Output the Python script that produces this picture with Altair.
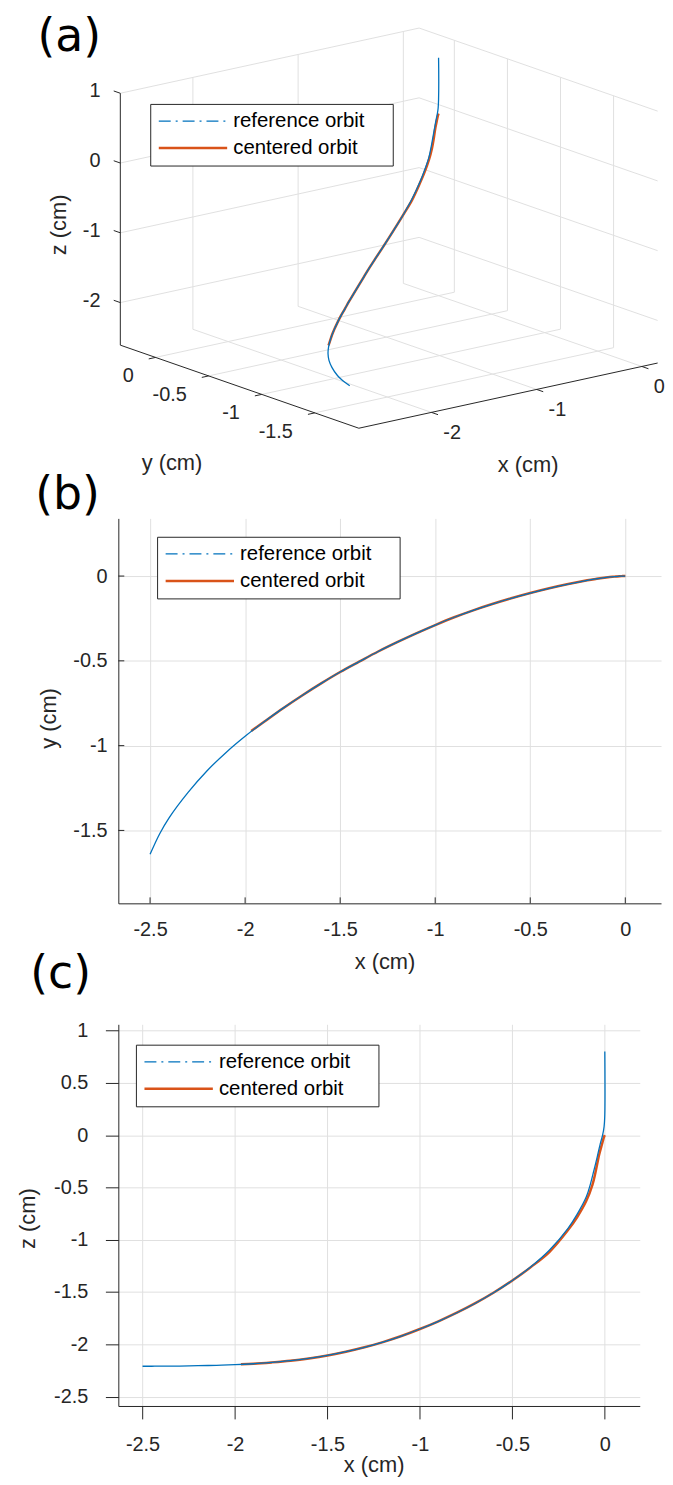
import altair as alt
import pandas as pd

# ---------------- curve data (cm) ----------------
ref_x = [-2.5, -2.45, -2.4, -2.3, -2.2, -2.1, -2.0, -1.9, -1.8, -1.7, -1.6, -1.5,
         -1.4, -1.3, -1.2, -1.1, -1.0, -0.9, -0.8, -0.7, -0.6, -0.5, -0.4, -0.3,
         -0.2, -0.15, -0.1, -0.079, -0.06, -0.04, -0.025, -0.012, -0.004, 0.0, 0.0]
ref_y = [-1.641, -1.521, -1.426, -1.276, -1.148, -1.040, -0.945, -0.859, -0.779, -0.704,
         -0.633, -0.566, -0.505, -0.445, -0.390, -0.338, -0.289, -0.243, -0.202, -0.165,
         -0.131, -0.100, -0.072, -0.047, -0.025, -0.016, -0.008, -0.005, -0.003, -0.0015,
         -0.0007, -0.0002, 0.0, 0.0, 0.0]
ref_z = [-2.210, -2.210, -2.209, -2.208, -2.205, -2.201, -2.195, -2.186, -2.173, -2.157,
         -2.135, -2.107, -2.071, -2.029, -1.979, -1.921, -1.854, -1.780, -1.698, -1.607,
         -1.505, -1.390, -1.259, -1.101, -0.894, -0.758, -0.590, -0.475, -0.345, -0.200,
         -0.085, 0.000, 0.080, 0.200, 0.800]

cen_x = [-1.968, -1.9, -1.8, -1.7, -1.6, -1.5, -1.4, -1.3, -1.2, -1.1, -1.0, -0.9, -0.8,
         -0.7, -0.6, -0.5, -0.4, -0.3, -0.2, -0.15, -0.1, -0.067, -0.05, -0.031, -0.015,
         -0.005, 0.0]
cen_y = [-0.914, -0.859, -0.779, -0.704, -0.633, -0.566, -0.505, -0.445, -0.390, -0.338,
         -0.289, -0.243, -0.202, -0.165, -0.131, -0.100, -0.072, -0.047, -0.025, -0.016,
         -0.008, -0.004, -0.003, -0.001, -0.0003, 0.0, 0.0]
cen_z = [-2.190, -2.186, -2.173, -2.157, -2.135, -2.107, -2.071, -2.029, -1.979, -1.921,
         -1.854, -1.780, -1.698, -1.607, -1.505, -1.390, -1.262, -1.118, -0.910, -0.785,
         -0.628, -0.475, -0.352, -0.190, -0.085, -0.020, 0.000]

SERIES = ["reference orbit", "centered orbit"]
COLORS = ["#0072BD", "#D95319"]
DASHES = [[12, 5, 2, 5], [1, 0]]
WIDTHS = [1.3, 2.5]
PANELS = ["(a)", "(b)", "(c)"]

# ---------------- ticks and axis limits ----------------
x_ticks_2d = [-2.5, -2.0, -1.5, -1.0, -0.5, 0.0]
y_ticks_b = [0.0, -0.5, -1.0, -1.5]
z_ticks_c = [1.0, 0.5, 0.0, -0.5, -1.0, -1.5, -2.0, -2.5]
x_ticks_3d = [-2.0, -1.0, 0.0]
y_ticks_3d = [0.0, -0.5, -1.0, -1.5]
z_ticks_3d = [1.0, 0.0, -1.0, -2.0]

xlim_b = [-2.667, 0.188]
ylim_b = [-1.93, 0.34]
xlim_c = [-2.631, 0.189]
zlim_c = [-2.59, 1.06]
xlim_3d = [-2.69, 0.15]
ylim_3d = [-1.915, 0.332]
zlim_3d = [-2.61, 1.0]

# ---------------- styles ----------------
FONT = "Liberation Sans"
PANEL_FONT = "DejaVu Sans"
AX = "#262626"
GRID = "#e0e0e0"

WA, HA = 546, 387.7
WB, HB = 546, 387.3
WC, HC = 524.6, 384


def fmt(v):
    s = "%g" % v
    return "0" if s == "-0" else s


def legend(lx, ly):
    # an invisible right-hand title widens the box like MATLAB's legend
    return alt.Legend(
        title="\u00a0", titleOrient="right", titlePadding=21, titleFontSize=6,
        titleColor="white",
        orient="none", legendX=lx, legendY=ly,
        fillColor="white", strokeColor=AX, padding=7, rowPadding=6.2,
        clipHeight=20.5, symbolType="stroke", symbolSize=4733,
        labelFont=FONT, labelFontSize=20.5, labelColor="black",
        labelOffset=4.5, labelLimit=400,
    )


def panel_label(text, px, py):
    return alt.Chart(pd.DataFrame({"t": [text]})).mark_text(
        align="left", baseline="alphabetic", font=PANEL_FONT, fontSize=46, color="black"
    ).encode(x=alt.value(px), y=alt.value(py), text="t:N")


def frame(xs, ys, zs, name):
    return pd.DataFrame({"x": xs, "y": ys, "z": zs, "series": name, "i": list(range(len(xs)))})


ref_df = frame(ref_x, ref_y, ref_z, SERIES[0])
cen_df = frame(cen_x, cen_y, cen_z, SERIES[1])


def legend_encodings(leg):
    return dict(
        color=alt.Color("series:N", scale=alt.Scale(domain=SERIES, range=COLORS), legend=leg),
        strokeDash=alt.StrokeDash("series:N", scale=alt.Scale(domain=SERIES, range=DASHES), legend=leg),
        strokeWidth=alt.StrokeWidth("series:N", scale=alt.Scale(domain=SERIES, range=WIDTHS), legend=leg),
    )


def color_only(leg):
    return alt.Color("series:N", scale=alt.Scale(domain=SERIES, range=COLORS), legend=leg)


# ================= panel (a): 3-D view, orthographic projection =================
EX = (105.85, -23.1)   # screen px per cm along +x
EY = (-106.8, -37.2)   # screen px per cm along +y
EZ = (0.0, -70.2)      # screen px per cm along +z
A_ORIGIN = (2.0, 334.7)  # screen position of (xmin, ymax, zmin) in the panel
X0, X1 = xlim_3d
Y0, Y1 = ylim_3d
Z0, Z1 = zlim_3d


def proj(x, y, z):
    dx, dy, dz = x - X0, y - Y1, z - Z0
    return (A_ORIGIN[0] + dx * EX[0] + dy * EY[0] + dz * EZ[0],
            A_ORIGIN[1] + dx * EX[1] + dy * EY[1] + dz * EZ[1])


def seg(p, q):
    (a1, b1), (a2, b2) = proj(*p), proj(*q)
    return {"x1": a1, "y1": b1, "x2": a2, "y2": b2}


grid_rows = []
for x in x_ticks_3d:
    grid_rows.append(seg((x, Y1, Z0), (x, Y1, Z1)))
    grid_rows.append(seg((x, Y0, Z0), (x, Y1, Z0)))
for y in y_ticks_3d:
    grid_rows.append(seg((X1, y, Z0), (X1, y, Z1)))
    grid_rows.append(seg((X0, y, Z0), (X1, y, Z0)))
for z in z_ticks_3d:
    grid_rows.append(seg((X0, Y1, z), (X1, Y1, z)))
    grid_rows.append(seg((X1, Y1, z), (X1, Y0, z)))
grid_df = pd.DataFrame(grid_rows)

axes_df = pd.DataFrame([seg((X0, Y1, Z0), (X0, Y1, Z1)),
                        seg((X0, Y1, Z0), (X0, Y0, Z0)),
                        seg((X0, Y0, Z0), (X1, Y0, Z0))])
TLX, TLY = 0.065, 0.062
tick_rows = ([seg((x, Y0, Z0), (x, Y0 - TLY, Z0)) for x in x_ticks_3d]
             + [seg((X0, y, Z0), (X0 - TLX, y, Z0)) for y in y_ticks_3d]
             + [seg((X0, Y1, z), (X0, Y1 + TLY, z)) for z in z_ticks_3d])
ticks_df = pd.DataFrame(tick_rows)


def pts(coords, labels):
    return pd.DataFrame({"sx": [c[0] for c in coords], "sy": [c[1] for c in coords], "t": labels})


xlab_df = pts([proj(x, Y0, Z0) for x in x_ticks_3d], [fmt(v) for v in x_ticks_3d])
ylab_df = pts([proj(X0, y, Z0) for y in y_ticks_3d], [fmt(v) for v in y_ticks_3d])
zlab_df = pts([proj(X0, Y1, z) for z in z_ticks_3d], [fmt(v) for v in z_ticks_3d])
xtit_df = pts([proj((X0 + X1) / 2, Y0, Z0)], ["x (cm)"])
ytit_df = pts([proj(X0, (Y0 + Y1) / 2, Z0)], ["y (cm)"])
ztit_df = pts([proj(X0, Y1, (Z0 + Z1) / 2)], ["z (cm)"])


def proj_df(df):
    p = [proj(x, y, z) for x, y, z in zip(df["x"], df["y"], df["z"])]
    out = df.copy()
    out["sx"] = [q[0] for q in p]
    out["sy"] = [q[1] for q in p]
    return out


ref_a = proj_df(ref_df)
cen_a = proj_df(cen_df)

SAX = alt.Scale(domain=[0, WA], nice=False, zero=False)
SAY = alt.Scale(domain=[0, HA], reverse=True, nice=False, zero=False)


def AXX(f):
    return alt.X(f, type="quantitative", scale=SAX, axis=None)


def AXY(f):
    return alt.Y(f, type="quantitative", scale=SAY, axis=None)


def rules(df, color, width):
    return alt.Chart(df).mark_rule(color=color, strokeWidth=width).encode(
        x=AXX("x1"), y=AXY("y1"), x2=alt.X2("x2"), y2=alt.Y2("y2"))


def labels(df, **kw):
    return alt.Chart(df).mark_text(font=FONT, color=AX, **kw).encode(
        x=AXX("sx"), y=AXY("sy"), text="t:N")


leg_a = legend(32.1, 92)


def curve_a(df, width):
    return alt.Chart(df).mark_line(strokeWidth=width, interpolate="catmull-rom").encode(
        x=AXX("sx"), y=AXY("sy"), color=color_only(leg_a), order=alt.Order("i:Q"))


# one-point-per-series layer: draws nothing, only feeds the legend its dash and width
key_a = alt.Chart(pd.concat([ref_a.head(1), cen_a.head(1)])).mark_line().encode(
    x=AXX("sx"), y=AXY("sy"), **legend_encodings(leg_a))

panel_a = alt.layer(
    key_a,
    rules(grid_df, GRID, 1),
    rules(axes_df, AX, 1),
    rules(ticks_df, AX, 1),
    labels(xlab_df, align="left", baseline="middle", dx=12, dy=21, fontSize=20),
    labels(ylab_df, align="right", baseline="middle", dx=-22, dy=19, fontSize=20),
    labels(zlab_df, align="right", baseline="middle", dx=-20, dy=-2, fontSize=20),
    labels(xtit_df, align="center", baseline="middle", dx=20, dy=69.5, fontSize=22),
    labels(ytit_df, align="center", baseline="middle", dx=-68, dy=76.5, fontSize=22),
    labels(ztit_df, align="center", baseline="middle", angle=270, dx=-5.7, dy=-62, fontSize=22),
    curve_a(cen_a, WIDTHS[1]),
    curve_a(ref_a, WIDTHS[0]),
    panel_label(PANELS[0], -81.3, 38.9),
).properties(width=WA, height=HA)

# ================= common 2-D axis style =================
AX_COMMON = dict(grid=True, gridColor=GRID, gridWidth=1, domainColor=AX, domainWidth=1,
                 labelFont=FONT, labelFontSize=20, labelColor=AX,
                 labelExpr="'' + datum.value", labelFlush=False, labelOverlap=False,
                 titleFont=FONT, titleFontSize=22, titleFontWeight="normal", titleColor=AX,
                 titleBaseline="middle", titleAlign="center")


def curve_2d(df, yfield, xs, ys, xax, yax, width, leg):
    return alt.Chart(df).mark_line(strokeWidth=width, interpolate="catmull-rom").encode(
        x=alt.X("x", type="quantitative", scale=xs, axis=xax),
        y=alt.Y(yfield, type="quantitative", scale=ys, axis=yax),
        color=color_only(leg), order=alt.Order("i:Q"))


def key_2d(yfield, xs, ys, xax, yax, leg):
    return alt.Chart(pd.concat([ref_df.head(1), cen_df.head(1)])).mark_line().encode(
        x=alt.X("x", type="quantitative", scale=xs, axis=xax),
        y=alt.Y(yfield, type="quantitative", scale=ys, axis=yax),
        **legend_encodings(leg))


# ================= panel (b): y vs x =================
xs_b = alt.Scale(domain=xlim_b, nice=False, zero=False)
ys_b = alt.Scale(domain=ylim_b, nice=False, zero=False)
xax_b = alt.Axis(values=x_ticks_2d, ticks=False, tickSize=0, labelPadding=16,
                 title="x (cm)", titleX=267.8, titleY=59, **AX_COMMON)
yax_b = alt.Axis(values=y_ticks_b, ticks=False, tickSize=0, labelPadding=11.3,
                 title="y (cm)", titleX=-70.5, titleY=200.8, titleAngle=270, **AX_COMMON)
leg_b = legend(39, 18.5)

# inward tick marks (MATLAB style) at the axis tick values
tick_x_b = alt.Chart(pd.DataFrame({"x": x_ticks_2d})).mark_rule(color=AX, strokeWidth=1).encode(
    x=alt.X("x", type="quantitative", scale=xs_b, axis=xax_b), y=alt.value(HB), y2=alt.value(HB - 6))
tick_y_b = alt.Chart(pd.DataFrame({"y": y_ticks_b})).mark_rule(color=AX, strokeWidth=1).encode(
    y=alt.Y("y", type="quantitative", scale=ys_b, axis=yax_b), x=alt.value(0), x2=alt.value(6))

panel_b = alt.layer(
    key_2d("y", xs_b, ys_b, xax_b, yax_b, leg_b),
    curve_2d(cen_df, "y", xs_b, ys_b, xax_b, yax_b, WIDTHS[1], leg_b),
    curve_2d(ref_df, "y", xs_b, ys_b, xax_b, yax_b, WIDTHS[0], leg_b),
    tick_x_b, tick_y_b,
    panel_label(PANELS[1], -83.7, -9.8),
).properties(width=WB, height=HB)

# ================= panel (c): z vs x =================
xs_c = alt.Scale(domain=xlim_c, nice=False, zero=False)
zs_c = alt.Scale(domain=zlim_c, nice=False, zero=False)
xax_c = alt.Axis(values=x_ticks_2d, ticks=True, tickSize=13, tickColor=AX, tickWidth=1,
                 labelPadding=16, title="x (cm)", titleX=256.8, titleY=59, **AX_COMMON)
zax_c = alt.Axis(values=z_ticks_c, ticks=True, tickSize=13, tickColor=AX, tickWidth=1,
                 labelPadding=17.7, title="z (cm)", titleX=-91.3, titleY=195, titleAngle=270,
                 **AX_COMMON)
leg_c = legend(17.7, 20.5)

panel_c = alt.layer(
    key_2d("z", xs_c, zs_c, xax_c, zax_c, leg_c),
    curve_2d(cen_df, "z", xs_c, zs_c, xax_c, zax_c, WIDTHS[1], leg_c),
    curve_2d(ref_df, "z", xs_c, zs_c, xax_c, zax_c, WIDTHS[0], leg_c),
    panel_label(PANELS[2], -88.7, -36.1),
).properties(width=WC, height=HC)

chart = alt.concat(
    panel_a, panel_b, panel_c, columns=1, spacing=121, bounds="flush"
).resolve_scale(
    color="independent", strokeDash="independent", strokeWidth="independent",
    x="independent", y="independent"
).resolve_legend(
    color="independent", strokeDash="independent", strokeWidth="independent"
).properties(
    padding={"left": 8, "top": 0, "right": 0, "bottom": 5}
).configure_view(stroke=None)

chart.save("out.html", embed_options={"renderer": "svg", "actions": False})
